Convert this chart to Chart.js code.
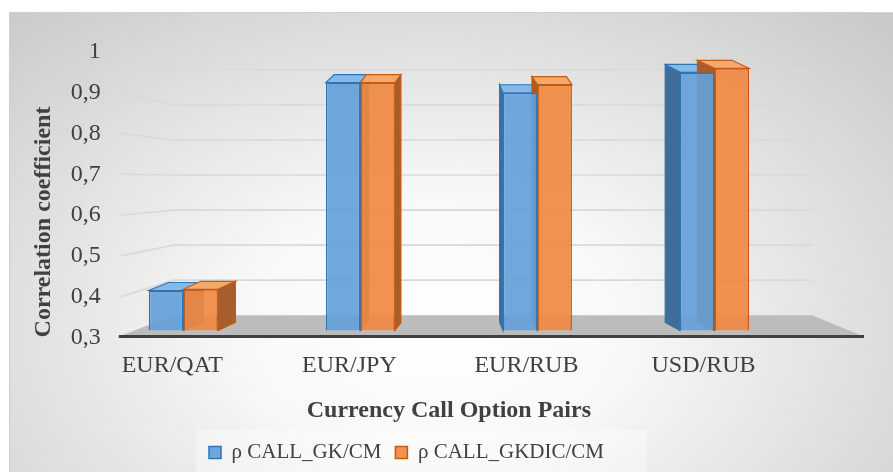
<!DOCTYPE html>
<html lang="en">
<head>
    <meta charset="UTF-8">
    <meta name="viewport" content="width=device-width, initial-scale=1.0">
    <title>Correlation coefficient by currency call option pair</title>
    <script src="https://cdn.jsdelivr.net/npm/chart.js"></script>
    <style>
        html, body { margin: 0; padding: 0; background: #ffffff; }
        #frame {
            position: absolute; left: 9px; top: 12px; width: 884px; height: 460px;
            border-top: 1px solid #d0d0d0; border-left: 1px solid #d0d0d0;
            background: radial-gradient(ellipse 640px 430px at 48% 68%, #ffffff 0%, #f8f8f8 30%, #c9c9c9 100%);
        }
    </style>
</head>
<body>

    <div id="frame">
        <canvas id="corrChart"></canvas>
    </div>

    <script>
        // values
        const categories = ['EUR/QAT', 'EUR/JPY', 'EUR/RUB', 'USD/RUB'];
        const seriesNames = ['\u03C1 CALL_GK/CM', '\u03C1 CALL_GKDIC/CM'];
        const gkValues = [0.415, 0.925, 0.9, 0.95];
        const gkdicValues = [0.418, 0.925, 0.92, 0.96];
        const yMin = 0.3, yMax = 1, yStep = 0.1;

        const serif = "'Liberation Serif', 'Times New Roman', serif";
        const textColor = '#404040';

        // fake 3D: walls, floor and box faces drawn under the bars
        const wall3d = {
            id: 'wall3d',
            beforeDraw(chart) {
                // lighter strip behind the legend
                const boxes = chart.legend && chart.legend.legendHitBoxes;
                if (!boxes || !boxes.length) return;
                const ctx = chart.ctx;
                const l = Math.min(...boxes.map(b => b.left));
                const r = Math.max(...boxes.map(b => b.left + b.width));
                const t = boxes[0].top, h = boxes[0].height;
                ctx.save();
                ctx.fillStyle = 'rgba(255,255,255,0.35)';
                ctx.fillRect(l - 13, t - 12, r - l + 56, h + 24);
                ctx.restore();
            },
            beforeDatasetsDraw(chart) {
                const {ctx, chartArea: a, scales: {y}} = chart;
                const backY = py => a.top + 18 + (py - a.top) * 0.859;
                const xFront = a.left + 26, xCorner = a.left + 79, xEnd = a.right + 9;
                const yf = y.getPixelForValue(yMin) - 1;
                const yb = backY(y.getPixelForValue(yMin));
                ctx.save();

                ctx.fillStyle = '#bcbcbc';
                ctx.beginPath();
                ctx.moveTo(xFront - 2, yf);
                ctx.lineTo(a.right + 61, yf);
                ctx.lineTo(xEnd, yb);
                ctx.lineTo(xCorner, yb);
                ctx.closePath();
                ctx.fill();

                ctx.strokeStyle = '#d9d9d9';
                ctx.lineWidth = 1.6;
                y.ticks.forEach(t => {
                    if (t.value <= yMin) return;
                    const py = y.getPixelForValue(t.value);
                    ctx.beginPath();
                    ctx.moveTo(xFront, py);
                    ctx.lineTo(xCorner, backY(py));
                    ctx.lineTo(xEnd, backY(py));
                    ctx.stroke();
                });

                ctx.strokeStyle = '#404040';
                ctx.lineWidth = 3;
                ctx.beginPath();
                ctx.moveTo(xFront - 2, yf);
                ctx.lineTo(a.right + 61, yf);
                ctx.stroke();

                const mid = a.left + a.width * 0.53;
                chart.data.datasets.forEach((ds, i) => {
                    chart.getDatasetMeta(i).data.forEach(bar => {
                        const p = bar.getProps(['x', 'y', 'base', 'width'], true);
                        const l = p.x - p.width / 2, r = p.x + p.width / 2;
                        const dx = (p.x - mid) * -0.065, dy = -8;
                        const sx = dx > 0 ? r : l;
                        ctx.lineWidth = 1.2;
                        ctx.strokeStyle = ds.borderColor;
                        ctx.fillStyle = ds.sideColor;
                        ctx.beginPath();
                        ctx.moveTo(sx, p.y);
                        ctx.lineTo(sx + dx, p.y + dy);
                        ctx.lineTo(sx + dx, p.base + dy);
                        ctx.lineTo(sx, p.base);
                        ctx.closePath();
                        ctx.fill();
                        ctx.stroke();
                        ctx.fillStyle = ds.topColor;
                        ctx.beginPath();
                        ctx.moveTo(l, p.y);
                        ctx.lineTo(r, p.y);
                        ctx.lineTo(r + dx, p.y + dy);
                        ctx.lineTo(l + dx, p.y + dy);
                        ctx.closePath();
                        ctx.fill();
                        ctx.stroke();
                    });
                });
                ctx.restore();
            }
        };

        const ctx = document.getElementById('corrChart').getContext('2d');

        const chart = new Chart(ctx, {
            type: 'bar',
            data: {
                labels: categories,
                datasets: [{
                    label: seriesNames[0],
                    data: gkValues,
                    base: 0.317,
                    backgroundColor: 'rgba(100,160,218,0.92)',
                    borderColor: '#2E75B6',
                    sideColor: '#3f6d98',
                    topColor: '#86b8e8',
                    borderWidth: 1.5,
                    categoryPercentage: 0.39,
                    barPercentage: 1
                }, {
                    label: seriesNames[1],
                    data: gkdicValues,
                    base: 0.317,
                    backgroundColor: 'rgba(240,137,66,0.92)',
                    borderColor: '#C55A11',
                    sideColor: '#a85d2c',
                    topColor: '#f6a86f',
                    borderWidth: 1.5,
                    categoryPercentage: 0.39,
                    barPercentage: 1
                }]
            },
            options: {
                responsive: true,
                maintainAspectRatio: false,
                animation: false,
                layout: { padding: { top: 39, right: 91, left: 0, bottom: 0 } },
                plugins: {
                    tooltip: { enabled: false },
                    legend: {
                        position: 'bottom',
                        labels: {
                            font: { family: serif, size: 21 },
                            color: textColor,
                            boxWidth: 12,
                            boxHeight: 12,
                            padding: 14
                        }
                    }
                },
                scales: {
                    x: {
                        grid: { display: false },
                        border: { display: false },
                        ticks: {
                            font: { family: serif, size: 24 },
                            color: textColor,
                            padding: 6,
                            labelOffset: -11
                        },
                        title: {
                            display: true,
                            text: 'Currency Call Option Pairs',
                            font: { family: serif, size: 24, weight: 'bold' },
                            color: textColor,
                            padding: { top: 10, bottom: 3 }
                        }
                    },
                    y: {
                        min: yMin,
                        max: yMax,
                        grid: { display: false },
                        border: { display: false },
                        ticks: {
                            stepSize: yStep,
                            font: { family: serif, size: 24 },
                            color: textColor,
                            mirror: true,
                            crossAlign: 'far',
                            padding: -24,
                            callback: v => (Math.round(v * 10) / 10).toString().replace('.', ',')
                        },
                        title: {
                            display: true,
                            text: 'Correlation coefficient',
                            align: 'start',
                            font: { family: serif, size: 24, weight: 'bold' },
                            color: textColor,
                            padding: { top: 19, bottom: 77 }
                        }
                    }
                }
            },
            plugins: [wall3d]
        });
    </script>

</body>
</html>
